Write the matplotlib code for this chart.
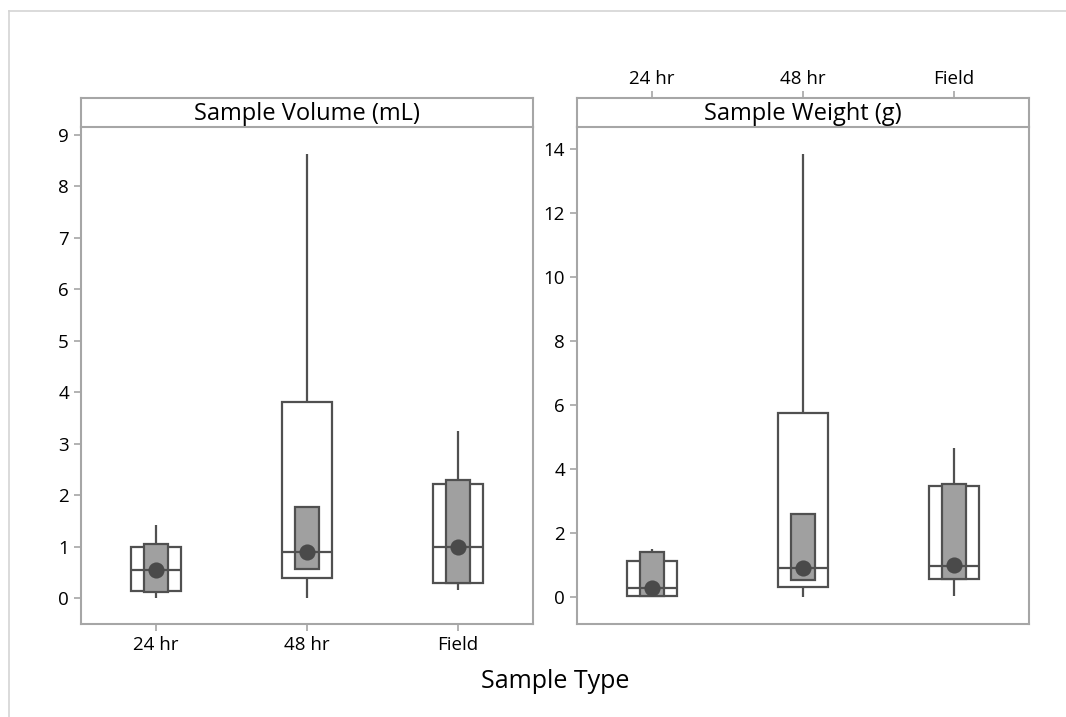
import numpy as np
import matplotlib
matplotlib.use("Agg")
import matplotlib.pyplot as plt
from matplotlib.lines import Line2D

plt.rcParams["font.family"] = ["Open Sans", "DejaVu Sans"]

# ── data ────────────────────────────────────────────────────────────────
categories = ["24 hr", "48 hr", "Field"]

vol_whislo = [0.00, 0.00, 0.17]
vol_q1     = [0.14, 0.40, 0.30]
vol_med    = [0.55, 0.90, 1.00]
vol_q3     = [0.99, 3.81, 2.21]
vol_whishi = [1.43, 8.62, 3.24]
vol_ci_lo  = [0.12, 0.575, 0.30]
vol_ci_hi  = [1.055, 1.77, 2.30]
vol_mean   = [0.55, 0.90, 1.00]

wt_whislo = [0.00, 0.00, 0.02]
wt_q1     = [0.02, 0.33, 0.56]
wt_med    = [0.27, 0.90, 0.98]
wt_q3     = [1.14, 5.76, 3.48]
wt_whishi = [1.50, 13.84, 4.65]
wt_ci_lo  = [0.04, 0.54, 0.56]
wt_ci_hi  = [1.42, 2.60, 3.52]
wt_mean   = [0.28, 0.92, 0.99]

EDGE = "#505050"
CI_FILL = "#a0a0a0"
FRAME = "#a6a6a6"
TICK_FS = 13.5

fig = plt.figure(figsize=(10.66, 7.17), dpi=100)

# outer frame lines (top and left)
fig.add_artist(Line2D([9/1066, 1], [1 - 11/717]*2, color="#d4d4d4", lw=1.2))
fig.add_artist(Line2D([9/1066]*2, [0, 1 - 11/717], color="#d4d4d4", lw=1.2))

def panel(left, title, whislo, q1, med, q3, whishi, ci_lo, ci_hi, mean,
          ylim, yticks, ticks_top):
    W, H = 1066, 717
    ax = fig.add_axes([left / W, 1 - 624 / H, 452.5 / W, (624 - 126.7) / H])
    strip = fig.add_axes([left / W, 1 - 126.7 / H, 452.5 / W, 28.5 / H],
                         sharex=ax)
    x = np.arange(1, len(categories) + 1)

    # whiskers
    ax.vlines(x, whislo, q1, color=EDGE, lw=1.6, zorder=1)
    ax.vlines(x, q3, whishi, color=EDGE, lw=1.6, zorder=1)
    # interquartile boxes
    ax.bar(x, np.subtract(q3, q1), bottom=q1, width=0.335, color="white",
           edgecolor=EDGE, linewidth=1.6, zorder=2)
    # median confidence interval boxes
    ax.bar(x, np.subtract(ci_hi, ci_lo), bottom=ci_lo, width=0.16,
           color=CI_FILL, edgecolor=EDGE, linewidth=1.6, zorder=3)
    # medians
    ax.hlines(med, x - 0.1675, x + 0.1675, color=EDGE, lw=1.6, zorder=4)
    # means
    ax.scatter(x, mean, s=135, color="#4a4a4a", zorder=5, linewidths=0)

    ax.set_xlim(0.5, 3.5)
    ax.set_ylim(*ylim)
    ax.set_yticks(yticks)
    ax.set_xticks(x)
    ax.tick_params(axis="both", colors=FRAME, labelcolor="black",
                   labelsize=TICK_FS, length=5, width=1.2)
    for s in ax.spines.values():
        s.set_color(FRAME)
        s.set_linewidth(1.5)
    ax.spines["top"].set_visible(False)

    strip.set_yticks([])
    for s in strip.spines.values():
        s.set_color(FRAME)
        s.set_linewidth(1.5)
    strip.text(0.5, 0.45, title, transform=strip.transAxes, ha="center",
               va="center", fontsize=17)

    if ticks_top:
        ax.tick_params(axis="x", bottom=False, labelbottom=False)
        strip.tick_params(axis="x", top=True, labeltop=True, bottom=False,
                          labelbottom=False, colors=FRAME, labelcolor="black",
                          labelsize=TICK_FS, length=5, width=1.2, pad=2)
        strip.set_xticks(x)
        strip.set_xticklabels(categories)
    else:
        ax.set_xticklabels(categories)
        strip.tick_params(axis="x", bottom=False, labelbottom=False)
    return ax

panel(80.7, "Sample Volume (mL)", vol_whislo, vol_q1, vol_med, vol_q3,
      vol_whishi, vol_ci_lo, vol_ci_hi, vol_mean,
      (-0.5, 9.16), range(0, 10), False)
panel(576.7, "Sample Weight (g)", wt_whislo, wt_q1, wt_med, wt_q3,
      wt_whishi, wt_ci_lo, wt_ci_hi, wt_mean,
      (-0.84, 14.7), range(0, 15, 2), True)

fig.text(555 / 1066, 1 - 681 / 717, "Sample Type", ha="center", va="center",
         fontsize=18)

fig.savefig("out.png", dpi=100)
